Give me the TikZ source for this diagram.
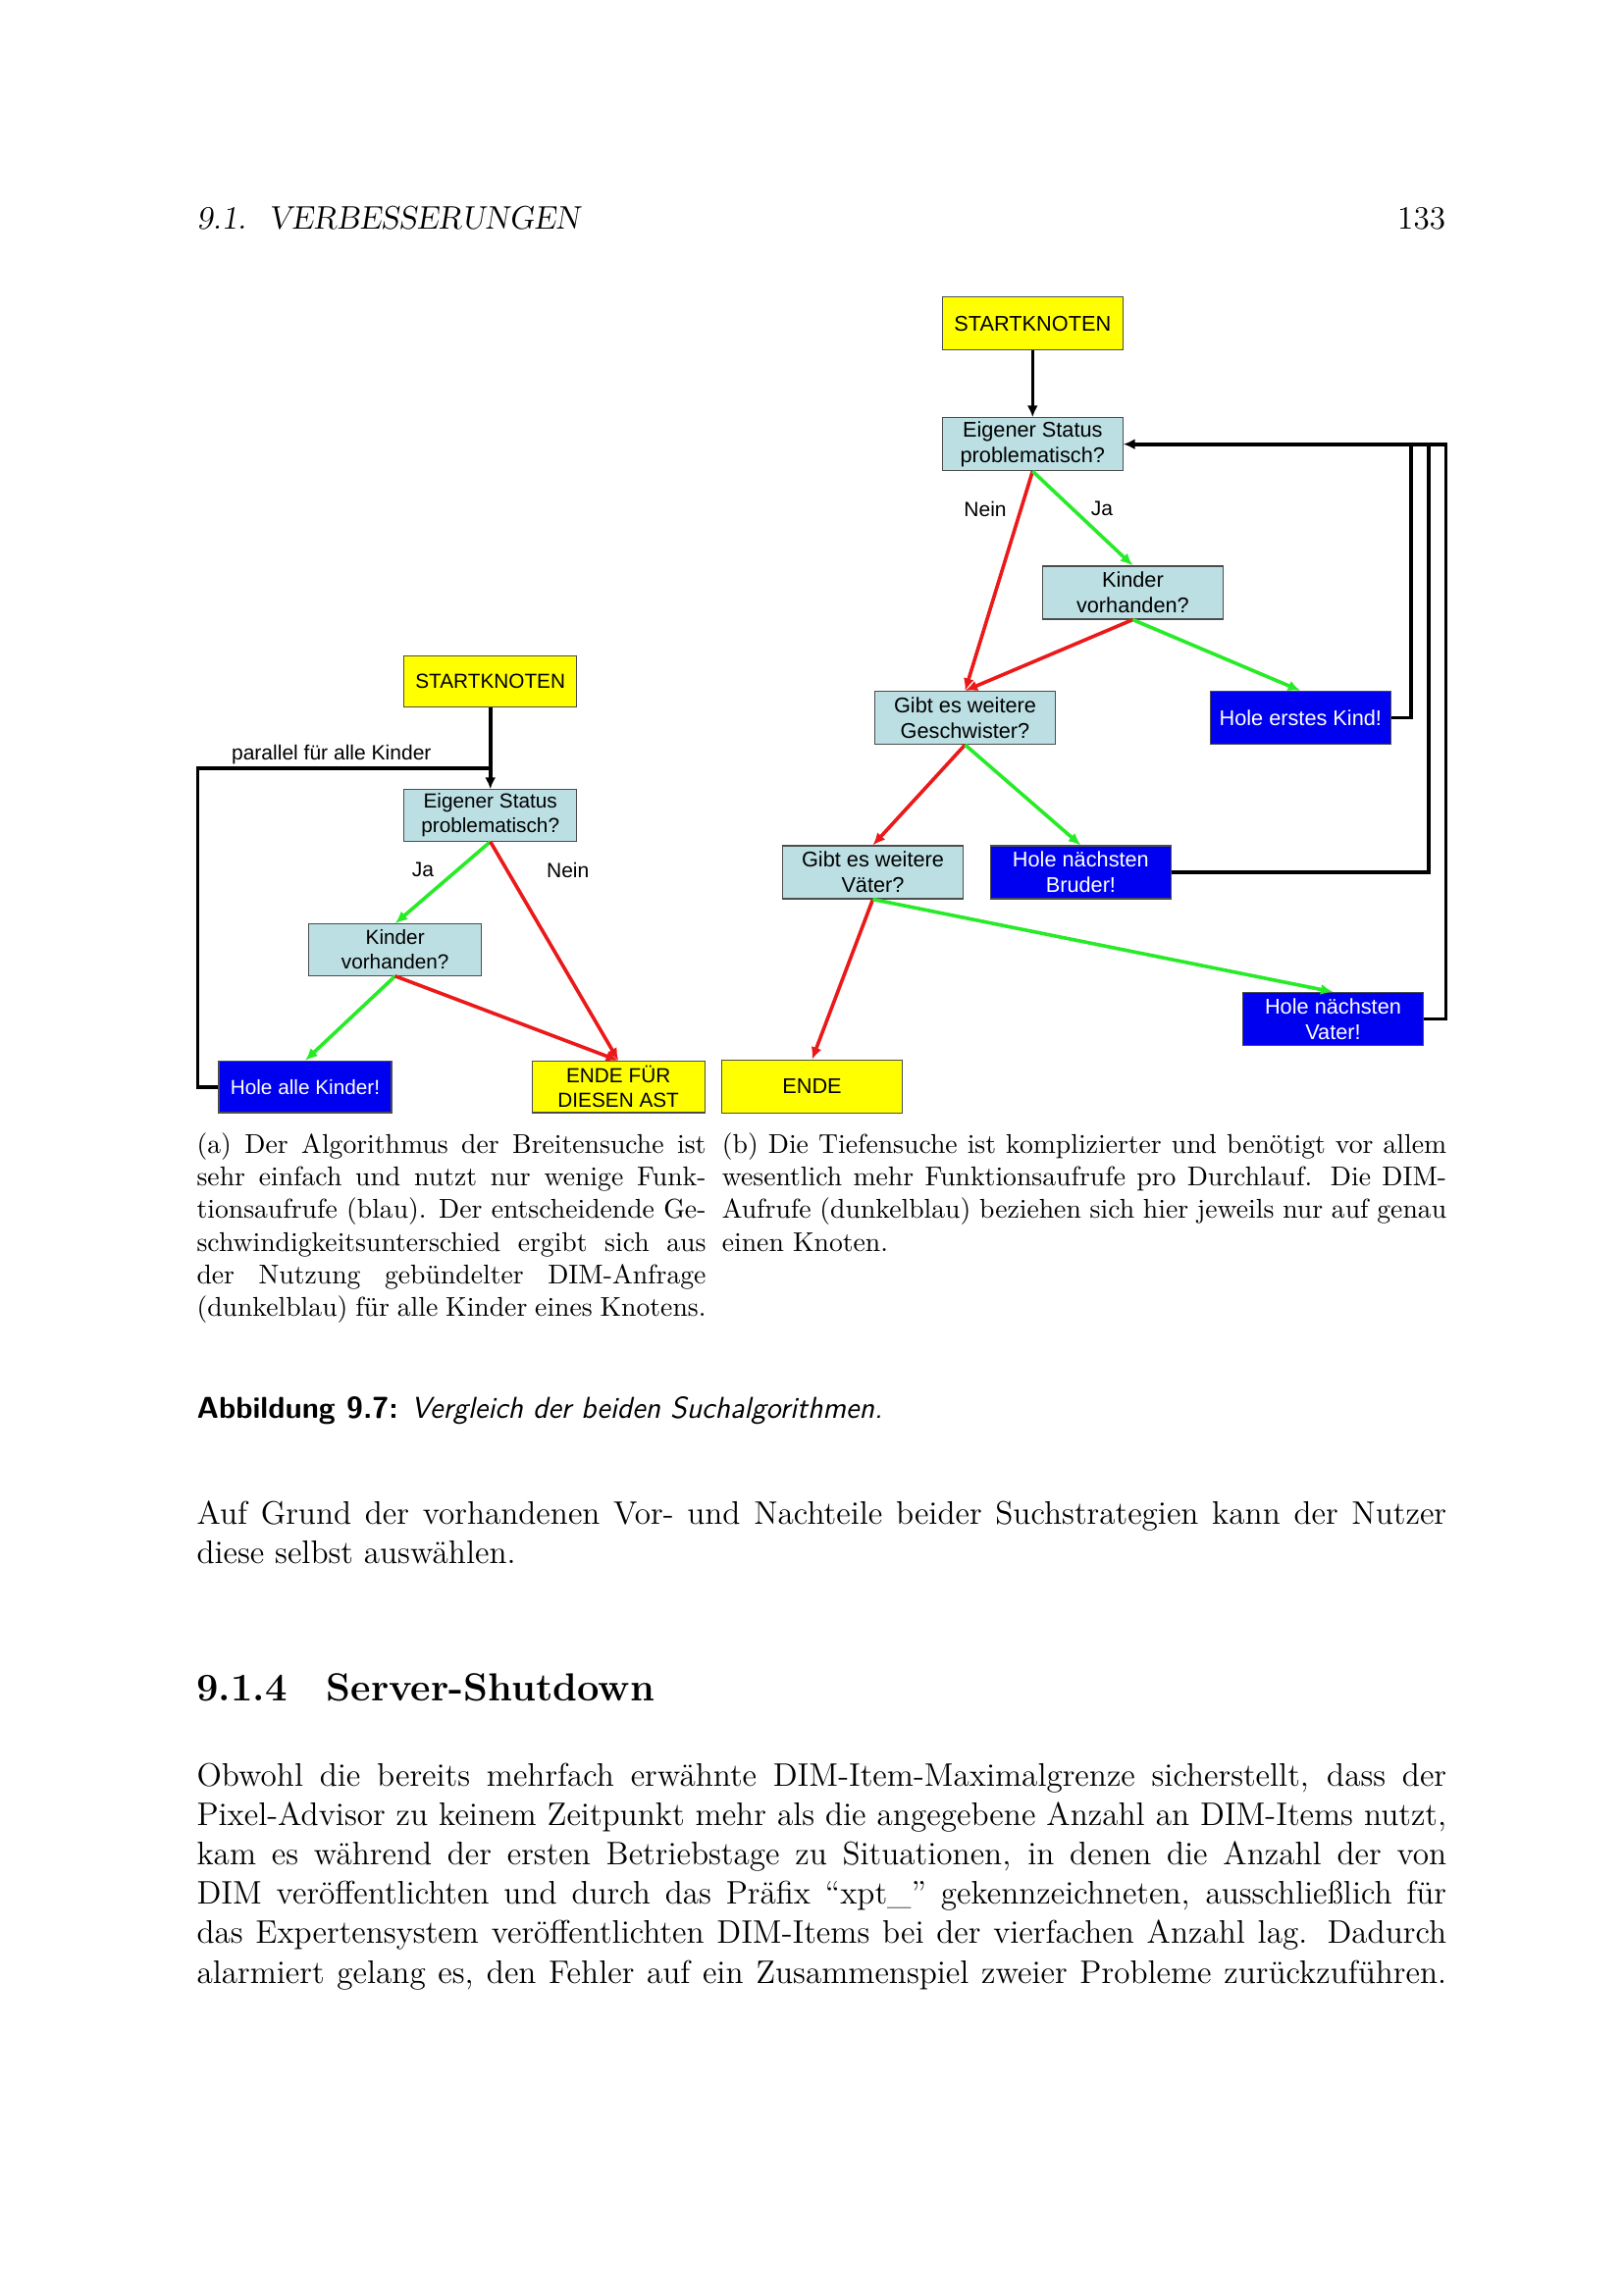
\documentclass[tikz,border=0pt]{standalone}
\usepackage{fontspec}
\newfontfamily\arialf{Liberation Sans}
\usetikzlibrary{arrows.meta}
\newlength\pxu
\setlength\pxu{0.126965mm}
\definecolor{pyel}{RGB}{255,255,0}
\definecolor{plb}{RGB}{187,223,227}
\definecolor{pdb}{RGB}{0,0,240}
\definecolor{pgr}{RGB}{40,235,40}
\definecolor{prd}{RGB}{235,25,25}
\newcommand\jfull[1]{\makebox[161.70mm][s]{#1}}
\newcommand\ja[1]{\makebox[65.89mm][s]{#1}}
\newcommand\jb[1]{\makebox[93.74mm][s]{#1}}
\begin{document}
\begin{tikzpicture}[x=0.126965mm,y=-0.126965mm,
  box/.style={draw=black!70,line width=0.4pt,inner sep=0pt,align=center},
  boxL/.style={box,minimum width=176*\pxu,minimum height=52.5*\pxu,
    font=\arialf\fontsize{7.5}{9}\selectfont},
  boxR/.style={box,minimum width=184*\pxu,minimum height=54*\pxu,
    font=\arialf\fontsize{7.85}{9.4}\selectfont},
  yel/.style={fill=pyel},
  lb/.style={fill=plb},
  db/.style={fill=pdb,text=white},
  lbl/.style={inner sep=0pt,font=\arialf\fontsize{7.6}{9}\selectfont},
  ga/.style={draw=pgr,line width=1.3pt,-{Latex[length=1.6mm,width=1.4mm]}},
  ra/.style={draw=prd,line width=1.3pt,-{Latex[length=1.6mm,width=1.4mm]}},
  ka/.style={draw=black,line width=1.3pt},
  kah/.style={ka,-{Latex[length=1.5mm,width=1.4mm]}},
  body/.style={anchor=base west,inner sep=0pt,font=\fontsize{12}{14.5}\selectfont},
  small/.style={anchor=base west,inner sep=0pt,font=\fontsize{10}{12}\selectfont}]
\fill[white] (0,0) rectangle (1654,2339);
\useasboundingbox (0,0) rectangle (1654,2339);

% header
\node[body,font=\fontsize{12}{14.5}\selectfont\slshape] (hd) at (200,233.5) {9.1.\ \ VERBESSERUNGEN};
\node[body,anchor=base east] (pg) at (1473.6,233.5) {133};

% ---------- left diagram ----------
\node[boxL,yel] (sL) at (499.7,694.3) {STARTKNOTEN};
\node[boxL,lb] (eL) at (499.7,831) {Eigener Status\\problematisch?};
\node[boxL,lb] (kL) at (402.7,968) {Kinder\\vorhanden?};
\node[boxL,db] (hL) at (311,1107.7) {Hole alle Kinder!};
\node[boxL,yel] (aL) at (630.2,1107.7) {ENDE FÜR\\DIESEN AST};
\coordinate (cL) at (201.4,783);
\coordinate (jL) at (499.7,783);
\draw[ka,line join=miter] (hL.west) -| (cL) -- (jL);
\draw[kah] (sL) -- (eL);
\draw[ga] (eL.south) -- (kL.north);
\draw[ra] (eL.south) -- (aL.north);
\draw[ga] (kL.south) -- (hL.north);
\draw[ra] (kL.south) -- (aL.north);
\node[lbl] (par) at (337.8,769.5) {parallel für alle Kinder};
\node[lbl] (ja1) at (431,886.5) {Ja};
\node[lbl] (ne1) at (578.7,886.5) {Nein};

% ---------- right diagram ----------
\node[boxR,yel] (sR) at (1052.3,329.7) {STARTKNOTEN};
\node[boxR,lb] (eR) at (1052.3,452.7) {Eigener Status\\problematisch?};
\node[boxR,lb] (kR) at (1154.4,604) {Kinder\\vorhanden?};
\node[boxR,lb] (gR) at (983.5,731.5) {Gibt es weitere\\Geschwister?};
\node[boxR,db] (heR) at (1325.3,731.5) {Hole erstes Kind!};
\node[boxR,lb] (vR) at (889.5,889) {Gibt es weitere\\Väter?};
\node[boxR,db] (bR) at (1101.4,889) {Hole nächsten\\Bruder!};
\node[boxR,db] (hvR) at (1358.5,1038.5) {Hole nächsten\\Vater!};
\node[boxR,yel] (eN) at (827.5,1107.5) {ENDE};
\draw[kah] (sR) -- (eR);
\draw[ra] (eR.south) -- (gR.north);
\draw[ga] (eR.south) -- (kR.north);
\draw[ra] (kR.south) -- (gR.north);
\draw[ga] (kR.south) -- (heR.north);
\draw[ra] (gR.south) -- (vR.north);
\draw[ga] (gR.south) -- (bR.north);
\draw[ra] (vR.south) -- (eN.north);
\draw[ga] (vR.south) -- (hvR.north);
\coordinate (c1) at (1437.8,452.7);
\coordinate (c2) at (1455.7,452.7);
\coordinate (c3) at (1473.6,452.7);
\draw[ka,line join=miter] (heR.east) -| (c1);
\draw[ka,line join=miter] (bR.east) -| (c2);
\draw[kah,line join=miter] (hvR.east) -| (c3) -- (eR.east);
\node[lbl] (ne2) at (1004,518.5) {Nein};
\node[lbl] (ja2) at (1123,518.5) {Ja};

% ---------- sub captions ----------
\node[small] (a1) at (200,1175.5) {\ja{(a) Der Algorithmus der Breitensuche ist}};
\node[small] (a2) at (200,1208.7) {\ja{sehr einfach und nutzt nur wenige Funk-}};
\node[small] (a3) at (200,1241.9) {\ja{tionsaufrufe (blau). Der entscheidende Ge-}};
\node[small] (a4) at (200,1275.1) {\ja{schwindigkeitsunterschied ergibt sich aus}};
\node[small] (a5) at (200,1308.3) {\ja{der Nutzung gebündelter DIM-Anfrage}};
\node[small] (a6) at (200,1341.5) {\ja{(dunkelblau) für alle Kinder eines Knotens.}};
\node[small] (b1) at (735.3,1175.5) {\jb{(b) Die Tiefensuche ist komplizierter und benötigt vor allem}};
\node[small] (b2) at (735.3,1208.7) {\jb{wesentlich mehr Funktionsaufrufe pro Durchlauf. Die DIM-}};
\node[small] (b3) at (735.3,1241.9) {\jb{Aufrufe (dunkelblau) beziehen sich hier jeweils nur auf genau}};
\node[small] (b4) at (735.3,1275.1) {einen Knoten.};

% caption
\node[body,font=\fontsize{11.1}{13.5}\selectfont\sffamily] (cap) at (200,1445) {\textbf{Abbildung 9.7:} \textit{Vergleich der beiden Suchalgorithmen.}};

% paragraph 1
\node[body] (p1) at (200,1553.5) {\jfull{Auf Grund der vorhandenen Vor- und Nachteile beider Suchstrategien kann der Nutzer}};
\node[body] (p2) at (200,1593.7) {diese selbst auswählen.};

% heading
\node[body,font=\fontsize{14.4}{18}\selectfont\bfseries] (h4) at (200,1733.5) {9.1.4\quad Server-Shutdown};

% paragraph 2
\node[body] (q1) at (200,1820) {\jfull{Obwohl die bereits mehrfach erwähnte DIM-Item-Maximalgrenze sicherstellt, dass der}};
\node[body] (q2) at (200,1860.2) {\jfull{Pixel-Advisor zu keinem Zeitpunkt mehr als die angegebene Anzahl an DIM-Items nutzt,}};
\node[body] (q3) at (200,1900.4) {\jfull{kam es während der ersten Betriebstage zu Situationen, in denen die Anzahl der von}};
\node[body] (q4) at (200,1940.6) {\jfull{DIM veröffentlichten und durch das Präfix ``xpt\_'' gekennzeichneten, ausschließlich für}};
\node[body] (q5) at (200,1980.8) {\jfull{das Expertensystem veröffentlichten DIM-Items bei der vierfachen Anzahl lag. Dadurch}};
\node[body] (q6) at (200,2021) {\jfull{alarmiert gelang es, den Fehler auf ein Zusammenspiel zweier Probleme zurückzuführen.}};
\end{tikzpicture}
\end{document}
